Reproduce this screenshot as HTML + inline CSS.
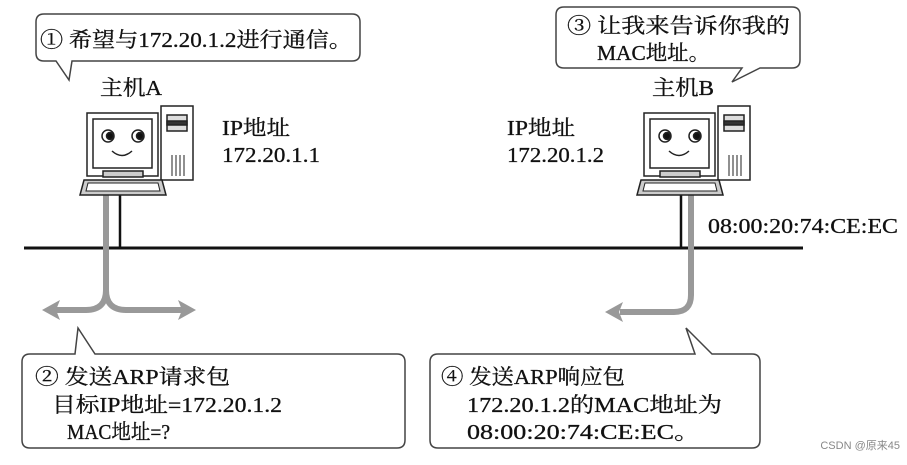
<!DOCTYPE html>
<html><head><meta charset="utf-8"><style>
body{margin:0;background:#fff;}
text{font-family:"Liberation Serif","Noto Serif CJK SC",serif;fill:#111;font-size:21px;stroke:#111;stroke-width:0.3;}
</style></head><body>
<svg width="907" height="460" viewBox="0 0 907 460" xmlns="http://www.w3.org/2000/svg">
<g fill="#fff" stroke="#444" stroke-width="1.5">
<path d="M44,14 H352 Q360,14 360,22 V53 Q360,61 352,61 H72 L69,80 L56,61 H44 Q36,61 36,53 V22 Q36,14 44,14 Z"/>
<path d="M564,7 H792 Q800,7 800,15 V60 Q800,68 792,68 H760 L732,82 L742,68 H564 Q556,68 556,60 V15 Q556,7 564,7 Z"/>
<path d="M30,354 H75 L78,328 L95,354 H397 Q405,354 405,362 V440 Q405,448 397,448 H30 Q22,448 22,440 V362 Q22,354 30,354 Z"/>
<path d="M438,354 H695 L686,328 L712,354 H752 Q760,354 760,362 V440 Q760,448 752,448 H438 Q430,448 430,440 V362 Q430,354 438,354 Z"/>
</g>
<text x="40" y="47" textLength="312" lengthAdjust="spacingAndGlyphs">① 希望与172.20.1.2进行通信。</text>
<text x="567" y="33" textLength="223" lengthAdjust="spacingAndGlyphs">③ 让我来告诉你我的</text>
<text x="597" y="60" textLength="113" lengthAdjust="spacingAndGlyphs">MAC地址。</text>
<text x="100" y="95" textLength="62" lengthAdjust="spacingAndGlyphs">主机A</text>
<text x="652" y="95" textLength="62" lengthAdjust="spacingAndGlyphs">主机B</text>
<text x="222" y="135" textLength="68" lengthAdjust="spacingAndGlyphs">IP地址</text>
<text x="222" y="162" textLength="98" lengthAdjust="spacingAndGlyphs">172.20.1.1</text>
<text x="507" y="135" textLength="68" lengthAdjust="spacingAndGlyphs">IP地址</text>
<text x="507" y="162" textLength="97" lengthAdjust="spacingAndGlyphs">172.20.1.2</text>
<text x="708" y="233" textLength="190" lengthAdjust="spacingAndGlyphs">08:00:20:74:CE:EC</text>
<text x="35" y="384" textLength="195" lengthAdjust="spacingAndGlyphs">② 发送ARP请求包</text>
<text x="52" y="412" textLength="230" lengthAdjust="spacingAndGlyphs">目标IP地址=172.20.1.2</text>
<text x="67" y="439" textLength="103" lengthAdjust="spacingAndGlyphs">MAC地址=?</text>
<text x="441" y="384" textLength="184" lengthAdjust="spacingAndGlyphs">④ 发送ARP响应包</text>
<text x="467" y="412" textLength="255" lengthAdjust="spacingAndGlyphs">172.20.1.2的MAC地址为</text>
<text x="467" y="439" textLength="233" lengthAdjust="spacingAndGlyphs">08:00:20:74:CE:EC。</text>
<text x="900" y="449" text-anchor="end" style="font-family:'Liberation Sans','Noto Sans CJK SC',sans-serif;font-size:11px;fill:#888;stroke:none">CSDN @原来45</text>
<line x1="24" y1="248" x2="803" y2="248" stroke="#111" stroke-width="3"/>
<line x1="120" y1="195" x2="120" y2="248" stroke="#111" stroke-width="2.5"/>
<line x1="681" y1="195" x2="681" y2="248" stroke="#111" stroke-width="2.5"/>
<g stroke="#999" stroke-width="6" fill="none">
<path d="M106,195 V290 Q106,310 86,310 H52"/>
<path d="M106,290 Q106,310 126,310 H185"/>
<path d="M691,195 V295 Q691,312 674,312 H620"/>
</g>
<g fill="#999">
<polygon points="42,310 60,300 56,310 60,320"/>
<polygon points="196,310 178,300 182,310 178,320"/>
<polygon points="605,312 623,302 619,312 623,322"/>
</g>
<g id="pc" stroke="#222" stroke-width="1.5" fill="#fff">
<rect x="161" y="106" width="32" height="74"/>
<rect x="167" y="115" width="20" height="16" fill="#ddd"/>
<rect x="167" y="121" width="20" height="4" fill="#333"/>
<path d="M172,155 V176 M176,155 V176 M180,155 V176 M184,155 V176" stroke-width="1"/>
<rect x="87" y="113" width="71" height="63"/>
<rect x="93" y="119" width="59" height="49"/>
<circle cx="108" cy="136" r="6"/><circle cx="138" cy="136" r="6"/>
<circle cx="110" cy="136" r="3.5" fill="#111"/><circle cx="140" cy="136" r="3.5" fill="#111"/>
<path d="M112,151 Q122,160 132,151" fill="none"/>
<rect x="103" y="171" width="40" height="6" fill="#ccc"/>
<path d="M84,180 H162 L166,195 H80 Z" fill="#ccc"/>
<path d="M88,183 H158 L160,191 H86 Z" fill="#fff" stroke-width="1"/>
</g>
<use href="#pc" transform="translate(557,0)"/>
</svg>
</body></html>
